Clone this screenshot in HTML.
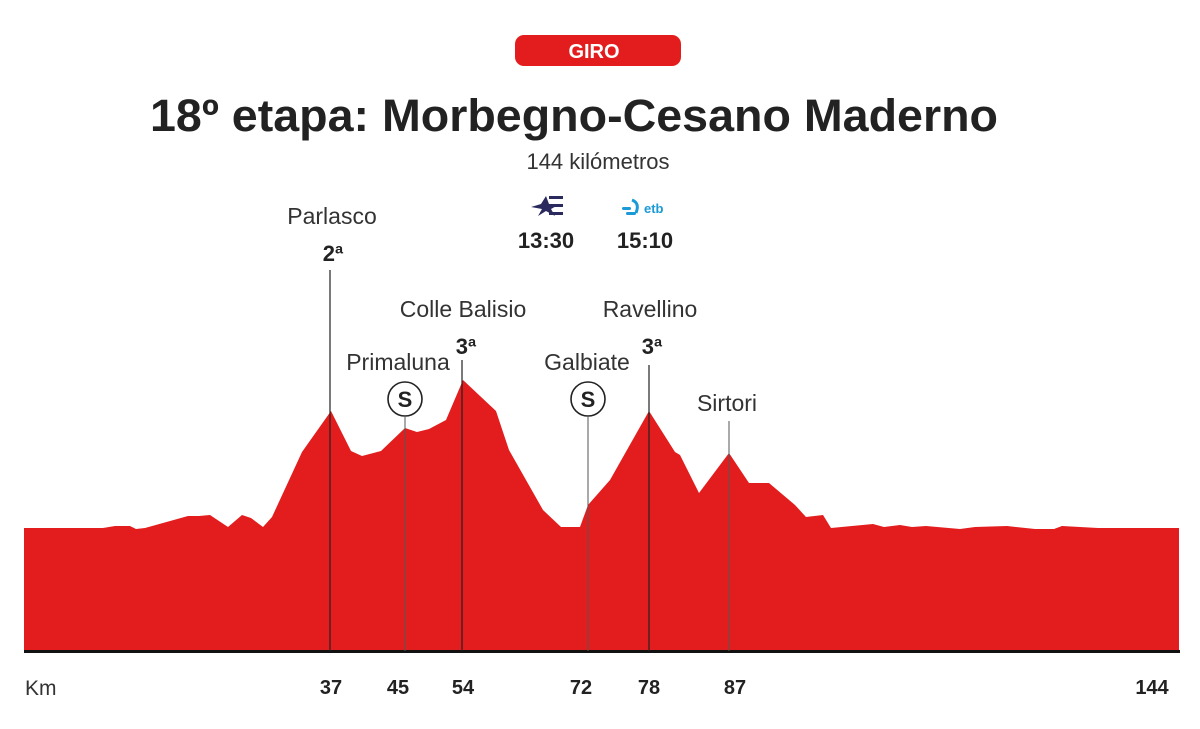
<!DOCTYPE html>
<html><head><meta charset="utf-8"><style>
html,body{margin:0;padding:0;background:#fff;}
body{width:1200px;height:724px;overflow:hidden;position:relative;font-family:"Liberation Sans",sans-serif;}
</style></head><body>
<svg width="1200" height="724" viewBox="0 0 1200 724" xmlns="http://www.w3.org/2000/svg" font-family="Liberation Sans, sans-serif">
<rect x="515" y="35" width="166" height="31" rx="9" fill="#e31d1d"/>
<text x="594" y="58" text-anchor="middle" fill="#fff" font-weight="bold" font-size="20">GIRO</text>
<text x="150" y="131" textLength="848" lengthAdjust="spacingAndGlyphs" fill="#222" font-weight="bold" font-size="45">18º etapa: Morbegno-Cesano Maderno</text>
<text x="598" y="169" text-anchor="middle" fill="#333" font-size="22">144 kilómetros</text>
<g fill="#2a2a5e"><polygon points="531,207 541,204 546,196 549,204 560,204 551,209 555,216 546,211 538,216 542,209"/><rect x="549" y="196" width="14" height="3"/><rect x="551" y="204" width="12" height="3"/><rect x="549" y="212" width="14" height="3"/></g>
<g fill="#1a9ad6"><rect x="622" y="207" width="9" height="3" rx="1.5"/><rect x="626" y="212" width="10" height="3" rx="1.5"/><path d="M632 200 q8 3 4 13" stroke="#1a9ad6" stroke-width="3" fill="none"/><text x="644" y="213" font-size="13" font-weight="bold">etb</text></g>
<text x="546" y="248" text-anchor="middle" fill="#222" font-weight="bold" font-size="22">13:30</text>
<text x="645" y="248" text-anchor="middle" fill="#222" font-weight="bold" font-size="22">15:10</text>
<polygon fill="#e31d1d" points="24,651 24,528 103,528 115,526 130,526 136,529 145,528 188,516 199,516 210,515 228,527 242,515 251,518 263,527 272,517 302,452 331,411 351,451 362,456 381,451 405,428 417,432 429,429 446,420 463,380 496,411 509,450 543,510 561,527 580,527 588,505 610,480 649,411 675,452 680,455 699,493 729,453 749,483 769,483 795,505 806,517 823,515 831,528 873,524 884,527 900,525 912,527 926,526 960,529 975,527 1007,526 1035,529 1054,529 1062,526 1098,528 1179,528 1179,651"/>
<rect x="24" y="650" width="1156" height="3" fill="#111"/>
<g stroke="#222" stroke-width="1.2"><line x1="330" y1="270" x2="330" y2="651"/><line x1="462" y1="360" x2="462" y2="651"/><line x1="649" y1="365" x2="649" y2="651"/></g>
<g stroke="#555" stroke-width="1"><line x1="405" y1="417" x2="405" y2="651"/><line x1="588" y1="417" x2="588" y2="651"/><line x1="729" y1="421" x2="729" y2="651"/></g>
<g fill="#fff" stroke="#222" stroke-width="1.6"><circle cx="405" cy="399" r="17"/><circle cx="588" cy="399" r="17"/></g>
<g font-weight="bold" font-size="22" fill="#222" text-anchor="middle"><text x="405" y="407">S</text><text x="588" y="407">S</text></g>
<g font-size="23" fill="#333" text-anchor="middle">
<text x="332" y="224">Parlasco</text><text x="463" y="317">Colle Balisio</text><text x="398" y="370">Primaluna</text>
<text x="587" y="370">Galbiate</text><text x="650" y="317">Ravellino</text><text x="727" y="411">Sirtori</text></g>
<g font-weight="bold" font-size="22" fill="#222" text-anchor="middle">
<text x="333" y="261">2ª</text><text x="466" y="354">3ª</text><text x="652" y="354">3ª</text></g>
<text x="25" y="695" font-size="21" fill="#333">Km</text>
<g font-weight="bold" font-size="20" fill="#222" text-anchor="middle">
<text x="331" y="694">37</text><text x="398" y="694">45</text><text x="463" y="694">54</text><text x="581" y="694">72</text><text x="649" y="694">78</text><text x="735" y="694">87</text><text x="1152" y="694">144</text></g>
</svg>
</body></html>
